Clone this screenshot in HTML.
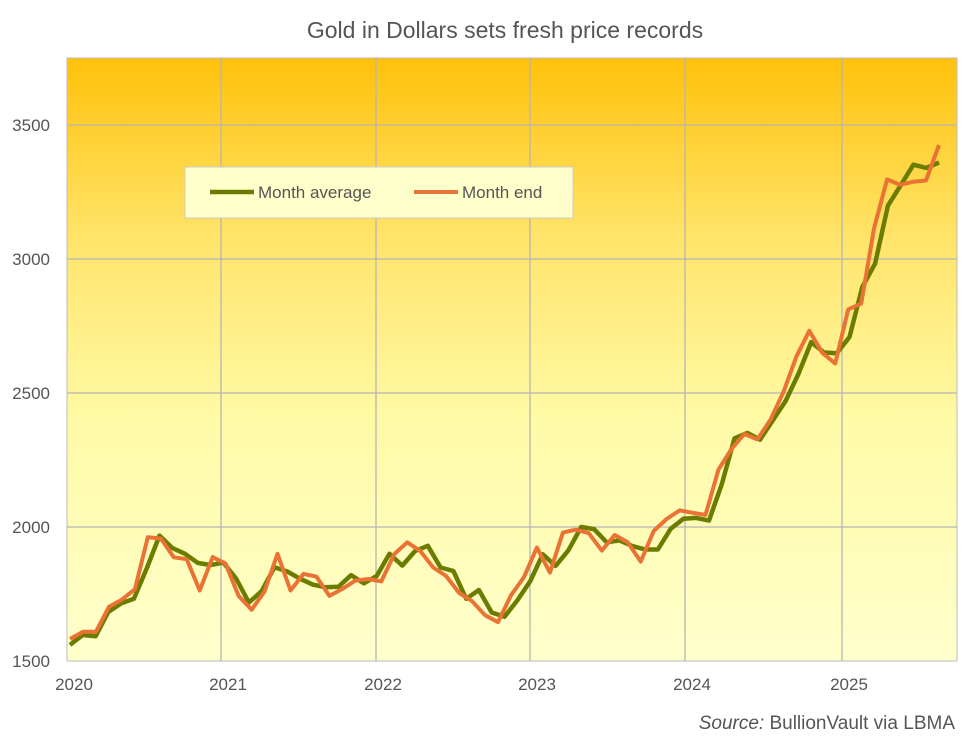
<!DOCTYPE html>
<html><head><meta charset="utf-8"><style>
body{margin:0;background:#fff;}
svg{display:block;font-family:"Liberation Sans",Arial,sans-serif;}
</style></head><body>
<svg width="964" height="740" viewBox="0 0 964 740">
<defs><linearGradient id="bg" x1="0" y1="0" x2="0" y2="1">
<stop offset="0" stop-color="#ffc10a"/><stop offset="0.3" stop-color="#ffe46a"/><stop offset="0.6" stop-color="#fffaa6"/><stop offset="1" stop-color="#ffffcc"/></linearGradient></defs>
<text x="505" y="38" text-anchor="middle" font-size="23" fill="#555">Gold in Dollars sets fresh price records</text>
<rect x="67" y="58" width="890" height="603" fill="url(#bg)" stroke="#bbb"/>
<g stroke="#b5b5b5" stroke-width="1.3">
<line x1="67" y1="125" x2="957" y2="125"/><line x1="67" y1="259" x2="957" y2="259"/><line x1="67" y1="393" x2="957" y2="393"/><line x1="67" y1="527" x2="957" y2="527"/>
<line x1="221" y1="58" x2="221" y2="661"/><line x1="376" y1="58" x2="376" y2="661"/><line x1="530" y1="58" x2="530" y2="661"/><line x1="685" y1="58" x2="685" y2="661"/><line x1="842" y1="58" x2="842" y2="661"/>
</g>
<g font-size="17" fill="#555" text-anchor="end">
<text x="50" y="131">3500</text><text x="50" y="265">3000</text><text x="50" y="399">2500</text><text x="50" y="533">2000</text><text x="50" y="667">1500</text></g>
<g font-size="17" fill="#555" text-anchor="middle">
<text x="74" y="690">2020</text><text x="228" y="690">2021</text><text x="383" y="690">2022</text><text x="537" y="690">2023</text><text x="692" y="690">2024</text><text x="849" y="690">2025</text></g>
<text x="955" y="729" font-size="19" fill="#555" text-anchor="end"><tspan font-style="italic">Source:</tspan> BullionVault via LBMA</text>
<polyline id="avg" fill="none" stroke="#6b7d00" stroke-width="4.5" stroke-linejoin="round"/>
<polyline id="end" fill="none" stroke="#ea7235" stroke-width="4" stroke-linejoin="round"/>
<rect x="185" y="167" width="388" height="51" fill="#ffffcc" stroke="#ccc"/>
<line x1="210" y1="192" x2="254" y2="192" stroke="#6b7d00" stroke-width="4.5"/>
<text x="258" y="198" font-size="17" fill="#555">Month average</text>
<line x1="414" y1="192" x2="458" y2="192" stroke="#ea7235" stroke-width="4"/>
<text x="462" y="198" font-size="17" fill="#555">Month end</text>
</svg>
<script>
var avg=[1560,1597,1592,1683,1715,1732,1845,1968,1922,1900,1866,1858,
1867,1808,1718,1761,1850,1834,1807,1785,1775,1777,1820,1790,
1817,1900,1856,1910,1930,1849,1836,1732,1765,1681,1665,1726,1797,
1898,1855,1913,2000,1992,1943,1950,1929,1916,1916,1993,2031,
2034,2024,2160,2331,2351,2326,2398,2470,2571,2690,2651,2648,
2709,2895,2983,3199,3275,3352,3340,3360];
var end=[1582,1609,1609,1702,1729,1768,1962,1957,1887,1880,1763,1888,
1863,1743,1691,1760,1900,1763,1825,1815,1743,1769,1800,1806,
1797,1899,1943,1911,1849,1817,1754,1723,1671,1645,1745,1813,
1923,1830,1979,1990,1977,1912,1970,1943,1871,1985,2030,2062,
2053,2045,2214,2291,2347,2327,2400,2503,2635,2732,2650,2610,
2812,2834,3115,3297,3277,3288,3293,3425];
function pts(a){var st=(939-70)/(a.length-1);return a.map(function(v,i){return (70+i*st).toFixed(1)+","+(661-(v-1500)*0.268).toFixed(1)}).join(" ");}
document.getElementById("avg").setAttribute("points",pts(avg));
document.getElementById("end").setAttribute("points",pts(end));
</script>
</body></html>
